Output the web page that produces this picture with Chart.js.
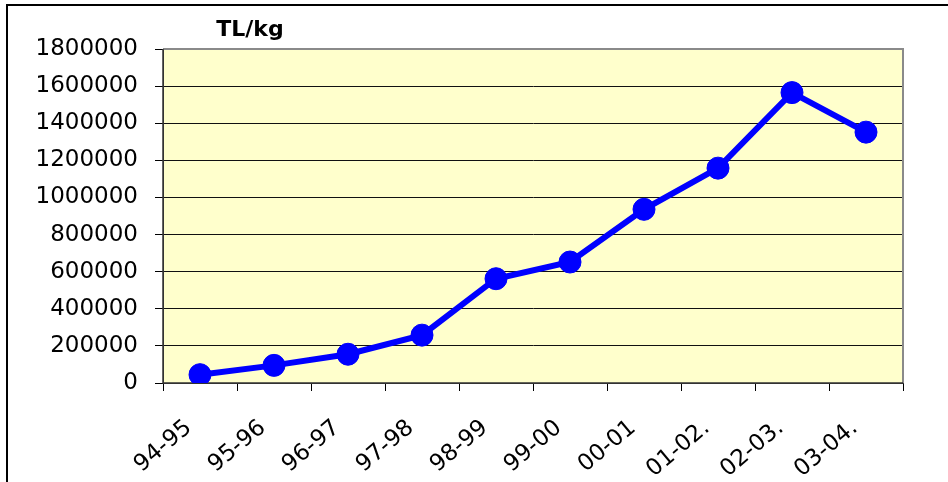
<!DOCTYPE html>
<html>
<head>
<meta charset="utf-8">
<script src="https://cdn.jsdelivr.net/npm/chart.js@4"></script>
<style>
  html, body { margin: 0; padding: 0; background: #fff; }
  #wrap { position: relative; width: 948px; height: 482px; }
  #frame { position: absolute; top: 4px; left: 6px; right: 0; bottom: 0;
           border-top: 2px solid #000; border-left: 2px solid #000; pointer-events: none; }
</style>
</head>
<body>
<div id="wrap">
  <canvas id="myChart" width="948" height="482"></canvas>
  <div id="frame"></div>
</div>
<script>
// sezone i cene (TL/kg)
const seasons = ['94-95', '95-96', '96-97', '97-98', '98-99', '99-00', '00-01', '01-02.', '02-03.', '03-04.'];
const prices = [45000, 95000, 155000, 258000, 562000, 652000, 936000, 1158000, 1565000, 1352000];
const yMax = 1800000;
const yStep = 200000;
const unitLabel = 'TL/kg';

const font = 'DejaVu Sans';

// pozadina i okvir oblasti grafika
const plotArea = {
  id: 'plotArea',
  beforeDraw(chart) {
    const a = chart.chartArea, c = chart.ctx;
    c.save();
    c.fillStyle = '#FFFFCC';
    c.fillRect(a.left, a.top, a.right - a.left, a.bottom - a.top);
    c.restore();
  },
  beforeDatasetsDraw(chart) {
    const a = chart.chartArea, c = chart.ctx;
    c.save();
    c.strokeStyle = '#8a8a8a';
    c.lineWidth = 2;
    c.beginPath();
    c.moveTo(a.left, a.top);
    c.lineTo(a.right, a.top);
    c.lineTo(a.right, a.bottom);
    c.stroke();
    c.strokeStyle = '#333';
    c.lineWidth = 1.5;
    c.beginPath();
    c.moveTo(a.left, a.top);
    c.lineTo(a.left, a.bottom);
    c.lineTo(a.right, a.bottom);
    c.stroke();
    // natpis jedinice iznad ose
    c.fillStyle = '#000';
    c.font = 'bold 22px "' + font + '"';
    c.textAlign = 'center';
    c.textBaseline = 'alphabetic';
    c.fillText(unitLabel, a.left + 87, a.top - 13);
    c.restore();
  }
};

const ctx = document.getElementById('myChart').getContext('2d');
new Chart(ctx, {
  type: 'line',
  data: {
    labels: seasons,
    datasets: [{
      data: prices,
      borderColor: '#0000FF',
      backgroundColor: '#0000FF',
      borderWidth: 6,
      pointRadius: 11,
      pointHoverRadius: 11,
      pointBackgroundColor: '#0000FF',
      pointBorderColor: '#0000FF',
      pointBorderWidth: 1,
      tension: 0,
      fill: false
    }]
  },
  options: {
    responsive: false,
    animation: false,
    events: [],
    layout: { padding: { top: 49, right: 45, left: 0, bottom: 0 } },
    plugins: { legend: { display: false }, tooltip: { enabled: false } },
    scales: {
      x: {
        offset: true,
        afterFit: s => { s.height = 99; },
        grid: {
          offset: true,
          drawOnChartArea: false,
          tickLength: 8,
          color: '#000'
        },
        border: { color: '#333' },
        ticks: {
          autoSkip: false,
          minRotation: 40,
          maxRotation: 40,
          padding: 14,
          color: '#000',
          font: { family: font, size: 23 },
          // razmak na kraju pomera tekst ulevo/nadole kao u originalu
          callback: function (v) { return this.getLabelForValue(v) + '  '; }
        }
      },
      y: {
        min: 0,
        max: yMax,
        afterFit: s => { s.width = 163; },
        grid: {
          color: '#111',
          lineWidth: 1,
          tickLength: 8,
          tickColor: '#000'
        },
        border: { color: '#333' },
        ticks: {
          stepSize: yStep,
          padding: 17,
          color: '#000',
          font: { family: font, size: 23 },
          callback: v => String(v)
        }
      }
    }
  },
  plugins: [plotArea]
});
</script>
</body>
</html>
